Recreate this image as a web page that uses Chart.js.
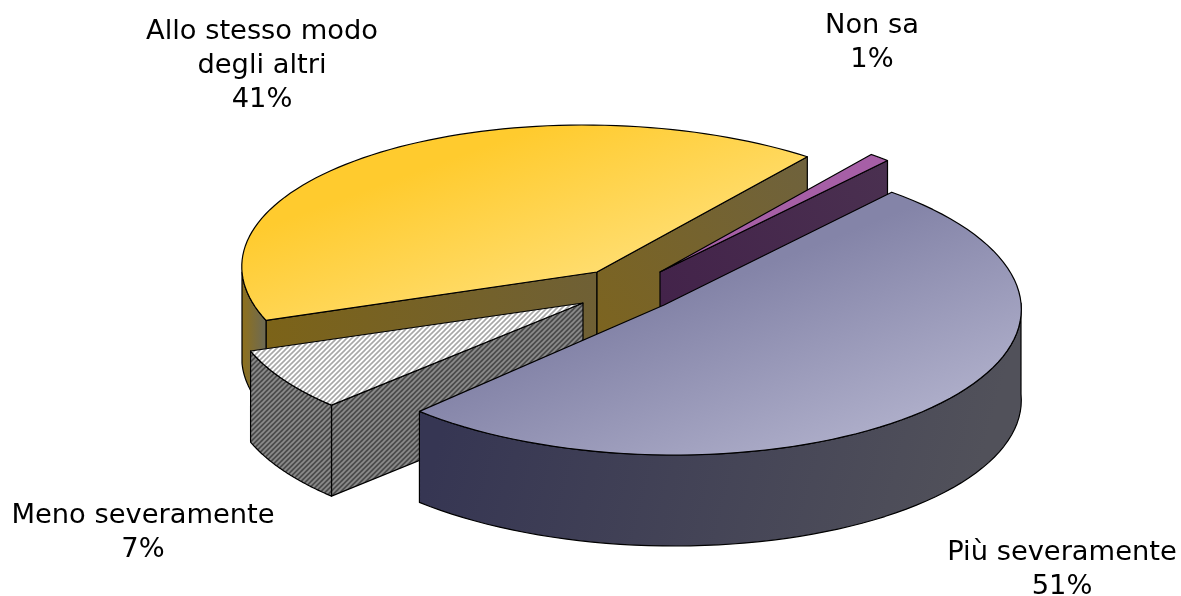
<!DOCTYPE html>
<html lang="it">
<head>
  <meta charset="UTF-8">
  <title>Torta 3D</title>
  <script src="https://cdn.jsdelivr.net/npm/chart.js"></script>
  <style>
    body { margin: 0; background: #fff; }
    canvas { display: block; }
  </style>
</head>
<body>
  <canvas id="torta" width="1181" height="596"></canvas>

  <script>
    // dati
    const categories = ['Più severamente', 'Meno severamente', ['Allo stesso modo', 'degli altri'], 'Non sa'];
    const values = [51, 7, 41, 1];

    // posizione delle etichette: centro x, baseline della prima riga
    const labelPos = [[1062, 560], [143, 523], [262, 39], [872, 33]];
    const lineH = 34;

    // ogni fetta esplosa ha il suo ellisse: cx, cy, a, b, c, d (x = cx + a cos + b sin, y = cy + c cos + d sin)
    const ellipses = [
      [664, 305, 357, 15, -2, 150],
      [583, 303, 352, 0, 0, 146],
      [597, 272, 355, 13, 0, 147],
      [660, 272, 340, 0, 0, 150]
    ];
    const depth = 91;
    const drawOrder = [2, 3, 1, 0];
    const R = 300;

    function stripes(bg, fg, w) {
      const c = document.createElement('canvas');
      c.width = c.height = 5;
      const t = c.getContext('2d');
      t.fillStyle = bg;
      t.fillRect(0, 0, 5, 5);
      t.strokeStyle = fg;
      t.lineWidth = w;
      [[-1, 1, 1, -1], [0, 5, 5, 0], [4, 6, 6, 4]].forEach(l => {
        t.beginPath();
        t.moveTo(l[0], l[1]);
        t.lineTo(l[2], l[3]);
        t.stroke();
      });
      return c;
    }

    const canvas = document.getElementById('torta');
    const c2d = canvas.getContext('2d');
    const patTop = c2d.createPattern(stripes('#ffffff', '#a8a8a8', 1.6), 'repeat');
    const patWall = c2d.createPattern(stripes('#4c4c4c', '#8c8c8c', 1.7), 'repeat');

    // gradiente in coordinate del cerchio (unita' = raggio)
    function topFill(c) {
      const i = c.dataIndex;
      const area = c.chart.chartArea;
      if (!area) return '#ccc';
      const X = (area.left + area.right) / 2, Y = (area.top + area.bottom) / 2;
      const g = (u0, v0, u1, v1, c0, c1) => {
        const gr = c.chart.ctx.createLinearGradient(X + u0 * R, Y + v0 * R, X + u1 * R, Y + v1 * R);
        gr.addColorStop(0, c0);
        gr.addColorStop(1, c1);
        return gr;
      };
      if (i === 0) return g(0, 0, 0.72, 0.8, '#8484a8', '#b0b0cb');
      if (i === 1) return patTop;
      if (i === 2) return g(-0.7, -0.5, 0.2, 0.55, '#ffcb2e', '#ffe896');
      return '#a65fa6';
    }

    function wallFill(ctx, i, kind) {
      const lin = (x0, y0, x1, y1, c0, c1) => {
        const gr = ctx.createLinearGradient(x0, y0, x1, y1);
        gr.addColorStop(0, c0);
        gr.addColorStop(1, c1);
        return gr;
      };
      if (i === 0) return lin(450, 400, 960, 540, '#363653', '#51515a');
      if (i === 1) return patWall;
      if (i === 2) {
        if (kind === 'outer') return lin(244, 0, 264, 0, '#8c7020', '#6f6a50');
        if (kind === 'start') return lin(263, 340, 597, 290, '#7c6318', '#6f6035');
        return lin(597, 330, 808, 170, '#7c6420', '#6f623c');
      }
      return lin(660, 300, 887, 170, '#43234a', '#4a3050');
    }

    const torta3d = {
      id: 'torta3d',
      beforeDatasetsDraw(chart) {
        const ctx = chart.ctx;
        const arcs = chart.getDatasetMeta(0).data;

        drawOrder.forEach(i => {
          const el = arcs[i];
          const [cx, cy, a, b, c, d] = ellipses[i];
          const pt = t => [cx + a * Math.cos(t) + b * Math.sin(t), cy + c * Math.cos(t) + d * Math.sin(t)];
          const s = el.startAngle, e = el.endAngle;
          const ps = pt(s), pe = pt(e);

          const poly = (points, fill) => {
            ctx.beginPath();
            points.forEach((p, k) => k ? ctx.lineTo(p[0], p[1]) : ctx.moveTo(p[0], p[1]));
            ctx.closePath();
            ctx.fillStyle = fill;
            ctx.fill();
            ctx.stroke();
          };

          ctx.save();
          ctx.strokeStyle = '#000';
          ctx.lineWidth = 1.2;
          ctx.lineJoin = 'round';

          // pareti di taglio
          if (Math.sin(s - Math.PI / 2) > 0) {
            poly([[cx, cy], ps, [ps[0], ps[1] + depth], [cx, cy + depth]], wallFill(ctx, i, 'start'));
          }
          if (Math.sin(e + Math.PI / 2) > 0) {
            poly([[cx, cy], pe, [pe[0], pe[1] + depth], [cx, cy + depth]], wallFill(ctx, i, 'end'));
          }

          // parete esterna, solo la parte davanti
          const t0 = Math.max(s, 0), t1 = Math.min(e, Math.PI);
          if (t1 > t0) {
            const top = [], bottom = [];
            for (let k = 0; k <= 60; k++) {
              const p = pt(t0 + (t1 - t0) * k / 60);
              top.push(p);
              bottom.unshift([p[0], p[1] + depth]);
            }
            poly(top.concat(bottom), wallFill(ctx, i, 'outer'));
          }

          // faccia superiore: l'arco della libreria deformato sull'ellisse
          const m = [a / R, c / R, b / R, d / R,
            cx - (a * el.x + b * el.y) / R, cy - (c * el.x + d * el.y) / R];
          const bg = el.options.backgroundColor;
          if (bg instanceof CanvasPattern) bg.setTransform(new DOMMatrix(m).inverse());
          ctx.save();
          ctx.transform(m[0], m[1], m[2], m[3], m[4], m[5]);
          el.draw(ctx);
          ctx.restore();

          // contorno della faccia superiore
          ctx.beginPath();
          ctx.moveTo(cx, cy);
          for (let k = 0; k <= 80; k++) {
            const p = pt(s + (e - s) * k / 80);
            ctx.lineTo(p[0], p[1]);
          }
          ctx.closePath();
          ctx.stroke();
          ctx.restore();
        });

        // etichette
        const total = values.reduce((x, y) => x + y, 0);
        ctx.save();
        ctx.fillStyle = '#000';
        ctx.font = '27.3px "DejaVu Sans"';
        ctx.textAlign = 'center';
        ctx.textBaseline = 'alphabetic';
        categories.forEach((cat, i) => {
          const lines = [].concat(cat, Math.round(values[i] / total * 100) + '%');
          lines.forEach((txt, k) => ctx.fillText(txt, labelPos[i][0], labelPos[i][1] + k * lineH));
        });
        ctx.restore();
        return false;
      }
    };

    new Chart(canvas, {
      type: 'pie',
      data: {
        labels: categories,
        datasets: [{
          data: values,
          backgroundColor: topFill,
          borderWidth: 0,
          clip: false
        }]
      },
      options: {
        responsive: false,
        animation: false,
        rotation: 42,
        radius: R,
        plugins: { legend: { display: false }, tooltip: { enabled: false } }
      },
      plugins: [torta3d]
    });
  </script>
</body>
</html>
